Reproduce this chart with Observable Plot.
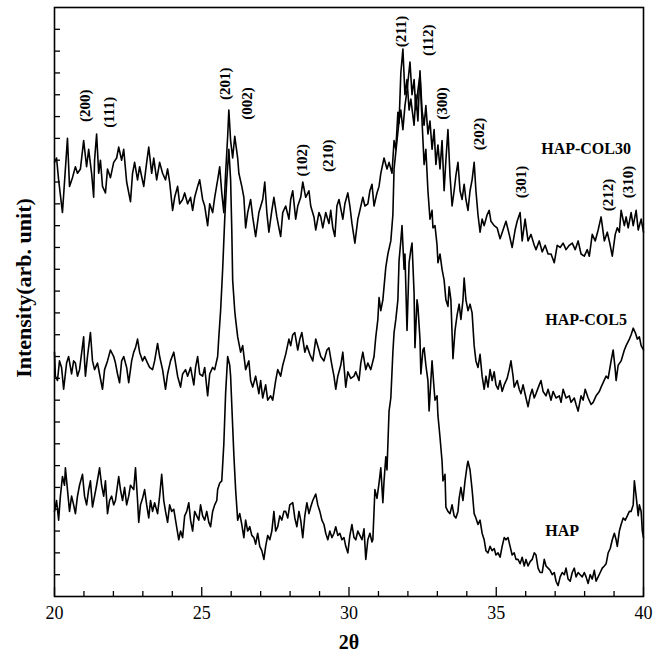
<!DOCTYPE html>
<html><head><meta charset="utf-8">
<script src="https://cdn.jsdelivr.net/npm/d3@7"></script>
<script src="https://cdn.jsdelivr.net/npm/@observablehq/plot@0.6"></script>
<style>body{margin:0;background:#fff} svg{display:block}</style>
</head><body><div id="chart"></div>
<script>
// [2θ (deg), intensity (arb. unit)]
const hapCol30 = [[20.00,19.9],[20.07,20.1],[20.14,19.1],[20.27,17.6],[20.34,19.0],[20.44,21.0],[20.51,18.8],[20.61,19.2],[20.71,19.7],[20.78,19.4],[20.88,19.6],[20.99,20.9],[21.09,19.7],[21.16,20.5],[21.26,19.4],[21.33,18.3],[21.36,20.0],[21.43,21.2],[21.50,19.4],[21.56,20.0],[21.63,18.8],[21.73,18.5],[21.80,19.6],[21.90,19.2],[22.01,19.9],[22.11,20.1],[22.18,20.6],[22.28,20.0],[22.35,20.5],[22.45,19.0],[22.58,18.1],[22.65,19.4],[22.72,19.9],[22.82,19.1],[22.89,19.7],[23.03,18.8],[23.13,19.9],[23.20,20.6],[23.30,19.4],[23.37,20.1],[23.47,19.1],[23.57,19.9],[23.67,19.4],[23.77,19.1],[23.84,19.6],[23.91,19.0],[24.01,17.7],[24.08,18.3],[24.18,18.8],[24.25,18.0],[24.35,18.2],[24.42,18.5],[24.52,18.0],[24.62,18.3],[24.69,17.7],[24.76,18.3],[24.86,18.8],[24.93,19.1],[25.03,18.2],[25.10,17.9],[25.20,17.0],[25.27,18.0],[25.37,17.6],[25.44,18.3],[25.54,19.1],[25.61,19.7],[25.68,18.5],[25.75,17.6],[25.81,19.4],[25.88,21.1],[25.92,22.3],[25.98,20.9],[26.05,20.1],[26.12,21.1],[26.22,20.1],[26.26,19.4],[26.36,18.8],[26.43,18.3],[26.49,16.9],[26.56,17.6],[26.66,18.2],[26.73,17.4],[26.83,16.5],[26.94,17.6],[27.07,18.2],[27.14,19.0],[27.21,17.6],[27.28,16.7],[27.38,17.7],[27.45,18.3],[27.55,17.4],[27.62,16.9],[27.68,16.5],[27.75,17.6],[27.85,17.9],[27.96,17.3],[28.02,18.2],[28.09,18.6],[28.19,17.3],[28.26,17.9],[28.36,18.3],[28.43,19.0],[28.53,18.3],[28.64,18.6],[28.70,17.9],[28.81,17.4],[28.87,16.8],[28.98,17.6],[29.04,17.4],[29.11,16.9],[29.21,17.6],[29.32,17.1],[29.38,17.7],[29.45,16.9],[29.52,16.5],[29.59,17.9],[29.66,18.2],[29.79,17.3],[29.86,18.0],[29.96,18.5],[30.03,17.9],[30.10,17.1],[30.20,16.2],[30.30,17.3],[30.37,17.7],[30.47,18.3],[30.54,17.9],[30.64,18.0],[30.71,18.6],[30.78,18.9],[30.85,17.9],[30.95,18.5],[31.02,18.8],[31.08,19.4],[31.19,20.1],[31.29,19.6],[31.36,19.9],[31.46,19.4],[31.53,20.9],[31.59,20.5],[31.66,22.2],[31.70,21.7],[31.76,24.0],[31.83,25.1],[31.90,23.0],[31.97,23.7],[32.04,22.3],[32.10,22.8],[32.21,21.6],[32.27,23.0],[32.34,21.8],[32.41,24.1],[32.48,22.3],[32.55,21.6],[32.61,22.5],[32.68,21.2],[32.75,21.8],[32.82,20.5],[32.89,21.4],[32.95,19.8],[33.02,20.7],[33.09,19.6],[33.16,20.9],[33.23,18.6],[33.29,20.0],[33.36,21.4],[33.43,19.3],[33.50,17.9],[33.57,18.6],[33.63,19.3],[33.70,19.9],[33.77,18.6],[33.84,18.2],[33.91,18.9],[33.97,18.2],[34.04,17.7],[34.11,18.6],[34.18,19.1],[34.25,19.9],[34.31,18.6],[34.38,17.5],[34.45,16.7],[34.52,17.3],[34.59,17.0],[34.69,17.5],[34.76,17.7],[34.82,17.2],[34.93,17.0],[35.03,16.9],[35.13,16.4],[35.23,16.8],[35.33,17.2],[35.44,16.6],[35.54,16.0],[35.64,16.8],[35.71,17.2],[35.81,17.6],[35.88,16.3],[35.98,17.3],[36.08,16.3],[36.18,16.6],[36.29,16.1],[36.35,15.9],[36.46,16.3],[36.56,15.8],[36.66,16.1],[36.76,15.7],[36.86,15.7],[36.97,15.3],[37.07,16.1],[37.17,16.0],[37.27,16.2],[37.37,15.9],[37.48,16.1],[37.58,16.2],[37.68,15.9],[37.78,16.3],[37.88,15.7],[37.99,15.6],[38.09,15.9],[38.16,15.6],[38.26,16.6],[38.36,16.3],[38.46,16.8],[38.56,17.4],[38.67,16.3],[38.77,16.7],[38.87,16.1],[38.94,15.6],[39.04,16.6],[39.11,16.9],[39.18,16.7],[39.24,17.7],[39.35,17.0],[39.41,17.4],[39.48,16.9],[39.58,17.6],[39.65,17.0],[39.75,17.7],[39.82,16.8],[39.92,17.3],[40.00,16.7]];

const hapCol5 = [[20.00,11.2],[20.03,10.1],[20.10,9.9],[20.17,10.8],[20.24,10.5],[20.31,9.5],[20.41,10.7],[20.48,11.0],[20.58,10.2],[20.65,10.8],[20.71,10.7],[20.78,10.1],[20.85,10.4],[20.99,11.9],[21.02,10.8],[21.05,10.1],[21.12,11.0],[21.22,12.1],[21.29,10.8],[21.36,10.4],[21.46,10.7],[21.53,10.2],[21.63,9.5],[21.70,10.4],[21.80,10.8],[21.90,11.3],[22.01,11.0],[22.07,10.7],[22.14,10.2],[22.21,9.8],[22.28,10.8],[22.35,11.0],[22.45,10.5],[22.52,9.8],[22.62,10.8],[22.69,11.2],[22.75,11.4],[22.82,11.8],[22.89,11.2],[22.99,10.8],[23.06,11.0],[23.16,10.7],[23.23,10.5],[23.33,10.4],[23.40,10.8],[23.50,11.6],[23.57,11.0],[23.67,10.4],[23.77,9.5],[23.84,10.2],[23.94,10.8],[24.05,11.2],[24.11,10.7],[24.18,10.1],[24.28,9.6],[24.35,10.2],[24.45,10.4],[24.52,10.1],[24.62,10.5],[24.73,9.7],[24.79,10.5],[24.86,11.0],[24.93,10.2],[25.03,10.1],[25.10,10.5],[25.20,9.2],[25.27,10.2],[25.37,10.5],[25.44,10.4],[25.54,11.0],[25.58,11.9],[25.64,13.1],[25.71,15.0],[25.78,17.3],[25.85,19.1],[25.92,20.5],[25.98,19.1],[26.02,16.8],[26.05,14.5],[26.12,13.1],[26.15,12.7],[26.22,11.9],[26.32,11.2],[26.39,11.5],[26.49,10.4],[26.60,10.8],[26.66,9.9],[26.73,9.6],[26.83,10.1],[26.94,9.3],[27.00,9.9],[27.07,9.1],[27.17,9.7],[27.24,9.0],[27.34,9.2],[27.41,9.0],[27.51,9.9],[27.58,10.4],[27.68,10.1],[27.75,10.6],[27.85,11.1],[27.96,11.8],[28.02,11.5],[28.09,12.0],[28.16,12.1],[28.26,11.3],[28.33,11.8],[28.40,12.1],[28.50,11.2],[28.57,11.5],[28.67,11.1],[28.77,10.8],[28.87,11.8],[28.98,11.3],[29.04,11.0],[29.15,10.8],[29.25,11.3],[29.32,11.4],[29.42,10.6],[29.49,10.1],[29.55,9.5],[29.62,10.1],[29.72,10.6],[29.79,11.2],[29.89,9.6],[29.96,10.3],[30.06,10.0],[30.17,10.1],[30.23,10.3],[30.34,9.9],[30.40,10.7],[30.47,11.2],[30.57,10.4],[30.64,10.7],[30.74,10.4],[30.85,11.0],[30.91,11.9],[30.98,12.7],[31.02,13.7],[31.08,13.1],[31.15,13.6],[31.25,15.1],[31.32,15.7],[31.42,16.3],[31.49,17.5],[31.53,19.6],[31.63,20.9],[31.70,21.8],[31.76,22.3],[31.83,21.4],[31.90,22.5],[31.97,23.2],[32.04,24.1],[32.07,24.5],[32.14,23.0],[32.21,23.7],[32.27,22.3],[32.34,23.2],[32.41,23.9],[32.48,21.8],[32.55,19.8],[32.61,20.5],[32.68,18.6],[32.75,17.3],[32.82,17.7],[32.85,16.9],[32.92,17.0],[32.99,16.1],[33.02,15.3],[33.09,15.7],[33.16,15.0],[33.23,14.5],[33.29,13.6],[33.36,13.3],[33.40,14.2],[33.46,13.6],[33.53,10.9],[33.60,12.2],[33.67,12.9],[33.74,13.4],[33.80,12.7],[33.87,13.6],[33.91,14.6],[33.97,13.6],[34.04,13.1],[34.11,13.4],[34.18,13.0],[34.25,11.5],[34.31,10.8],[34.38,10.5],[34.45,11.1],[34.52,10.1],[34.59,9.5],[34.65,10.1],[34.72,9.6],[34.79,10.4],[34.86,9.9],[34.93,10.3],[34.99,9.7],[35.06,9.5],[35.13,9.9],[35.20,9.4],[35.27,9.7],[35.37,10.0],[35.44,10.4],[35.50,10.8],[35.57,10.1],[35.61,9.6],[35.71,9.9],[35.78,9.5],[35.84,9.3],[35.91,9.7],[36.01,9.1],[36.08,8.7],[36.15,9.2],[36.22,9.5],[36.29,9.1],[36.35,9.3],[36.46,9.7],[36.52,9.9],[36.59,9.4],[36.69,9.2],[36.76,9.5],[36.86,9.0],[36.93,9.4],[37.03,9.1],[37.14,9.2],[37.20,8.9],[37.27,9.5],[37.37,9.1],[37.48,9.2],[37.54,8.9],[37.65,9.1],[37.71,8.8],[37.78,8.5],[37.88,9.2],[37.95,9.0],[38.02,9.5],[38.12,9.1],[38.22,8.8],[38.29,8.9],[38.39,9.2],[38.50,9.4],[38.56,9.6],[38.63,9.8],[38.73,10.1],[38.80,10.0],[38.90,10.8],[38.97,11.3],[39.04,10.4],[39.07,9.9],[39.14,10.6],[39.24,10.8],[39.35,11.3],[39.41,11.5],[39.52,11.8],[39.58,12.0],[39.65,12.3],[39.72,12.1],[39.79,11.8],[39.86,11.9],[39.92,11.5],[40.00,11.3]];

const hap = [[20.00,3.9],[20.07,4.4],[20.14,3.5],[20.20,4.6],[20.27,5.5],[20.34,5.1],[20.37,5.9],[20.44,4.9],[20.51,3.9],[20.58,4.6],[20.65,4.2],[20.71,3.8],[20.78,4.6],[20.85,5.1],[20.95,5.6],[21.02,4.6],[21.09,4.2],[21.16,4.9],[21.22,5.3],[21.29,4.1],[21.36,4.6],[21.43,5.1],[21.53,5.9],[21.60,5.1],[21.67,4.6],[21.73,5.3],[21.80,3.8],[21.87,4.4],[21.94,4.6],[22.01,4.2],[22.07,4.4],[22.18,5.5],[22.24,4.9],[22.31,4.4],[22.38,5.0],[22.45,4.2],[22.52,4.6],[22.58,5.1],[22.69,4.9],[22.75,5.9],[22.82,4.4],[22.86,3.4],[22.92,4.2],[22.99,4.5],[23.06,4.9],[23.13,4.2],[23.20,3.6],[23.26,4.4],[23.33,3.9],[23.40,4.3],[23.50,3.8],[23.57,4.6],[23.64,5.6],[23.71,4.4],[23.77,3.9],[23.84,3.4],[23.91,4.2],[23.98,3.9],[24.05,4.0],[24.11,3.5],[24.22,2.6],[24.28,3.0],[24.35,2.7],[24.42,3.7],[24.49,3.9],[24.56,4.3],[24.62,3.5],[24.69,3.0],[24.76,3.9],[24.83,3.7],[24.90,3.5],[24.96,4.2],[25.03,3.7],[25.10,3.5],[25.17,3.9],[25.24,3.4],[25.30,3.2],[25.37,3.9],[25.44,4.2],[25.51,4.4],[25.54,4.9],[25.61,5.2],[25.68,5.3],[25.75,7.0],[25.81,9.3],[25.88,11.0],[25.95,10.6],[25.98,10.1],[26.05,7.8],[26.09,6.5],[26.15,4.9],[26.22,3.5],[26.29,3.8],[26.36,3.3],[26.43,2.7],[26.49,3.5],[26.56,3.0],[26.63,3.2],[26.70,2.8],[26.77,2.7],[26.83,2.4],[26.90,2.9],[26.97,2.3],[27.04,2.1],[27.11,1.7],[27.17,2.3],[27.24,2.8],[27.31,2.6],[27.38,3.0],[27.45,3.9],[27.51,3.0],[27.58,3.2],[27.65,3.7],[27.72,3.5],[27.79,3.9],[27.85,3.9],[27.92,3.6],[27.99,4.2],[28.09,4.3],[28.16,3.6],[28.23,3.2],[28.30,3.9],[28.36,3.5],[28.43,2.7],[28.50,3.7],[28.57,4.3],[28.64,3.8],[28.70,4.1],[28.77,4.4],[28.87,4.7],[28.94,4.2],[29.01,3.9],[29.08,3.5],[29.15,3.3],[29.21,2.9],[29.28,2.6],[29.35,3.0],[29.42,2.7],[29.49,2.9],[29.55,3.2],[29.62,2.8],[29.69,2.9],[29.76,2.6],[29.83,2.7],[29.89,2.3],[29.96,2.0],[30.03,2.8],[30.10,3.3],[30.17,2.7],[30.23,2.6],[30.30,3.0],[30.37,2.8],[30.44,2.6],[30.51,3.1],[30.57,1.7],[30.64,2.6],[30.71,2.9],[30.78,2.5],[30.81,2.6],[30.88,4.9],[30.95,4.5],[31.02,5.2],[31.08,5.9],[31.15,4.3],[31.19,5.3],[31.25,6.4],[31.29,5.8],[31.36,8.5],[31.42,9.1],[31.49,11.2],[31.53,12.1],[31.59,12.7],[31.66,13.6],[31.70,15.4],[31.76,16.3],[31.80,17.0],[31.87,15.0],[31.90,15.7],[31.97,12.2],[32.04,15.3],[32.10,15.9],[32.14,16.2],[32.21,13.9],[32.24,11.4],[32.31,13.6],[32.34,13.3],[32.41,11.8],[32.44,10.2],[32.51,11.3],[32.55,11.4],[32.61,10.6],[32.68,9.9],[32.72,8.5],[32.78,9.9],[32.82,10.8],[32.89,9.5],[32.92,9.0],[32.99,9.2],[33.02,8.3],[33.09,7.3],[33.16,6.2],[33.19,5.3],[33.26,5.6],[33.29,4.1],[33.36,3.9],[33.43,3.8],[33.50,4.2],[33.57,3.7],[33.63,3.6],[33.70,3.9],[33.74,4.5],[33.80,5.0],[33.87,4.4],[33.94,5.3],[34.01,6.0],[34.04,6.2],[34.11,5.8],[34.18,4.9],[34.25,3.8],[34.31,3.6],[34.38,3.3],[34.45,3.5],[34.52,2.9],[34.59,2.6],[34.65,2.1],[34.72,2.0],[34.79,2.3],[34.86,2.1],[34.93,2.2],[34.99,1.9],[35.06,2.0],[35.13,1.8],[35.20,2.3],[35.27,2.7],[35.33,2.6],[35.40,2.7],[35.47,2.3],[35.54,1.9],[35.61,2.0],[35.67,1.7],[35.74,1.7],[35.81,1.5],[35.88,1.8],[35.95,1.4],[36.01,1.7],[36.08,1.4],[36.15,1.6],[36.22,1.7],[36.29,2.0],[36.35,1.9],[36.42,1.3],[36.49,1.1],[36.56,1.1],[36.63,1.7],[36.69,1.4],[36.76,1.3],[36.83,1.2],[36.90,1.0],[36.97,1.1],[37.03,0.7],[37.10,0.5],[37.17,0.9],[37.24,1.1],[37.31,1.0],[37.37,1.3],[37.44,0.8],[37.51,0.7],[37.58,1.1],[37.65,1.3],[37.71,0.9],[37.78,1.1],[37.85,1.0],[37.92,0.9],[37.99,1.1],[38.05,0.9],[38.12,0.6],[38.19,1.0],[38.26,0.8],[38.33,1.2],[38.39,0.7],[38.46,0.9],[38.53,1.1],[38.60,1.3],[38.67,1.4],[38.73,1.5],[38.80,2.0],[38.87,2.2],[38.94,2.6],[39.01,2.9],[39.07,2.6],[39.11,2.3],[39.18,3.0],[39.24,3.3],[39.31,3.6],[39.38,3.5],[39.45,3.7],[39.52,3.9],[39.58,3.9],[39.65,4.2],[39.69,5.3],[39.75,4.6],[39.82,3.7],[39.86,4.2],[39.92,3.9],[39.96,3.0],[40.00,2.7]];

const xTickLabels = [20, 25, 30, 35, 40];
const xMinorTicks = [21, 22, 23, 24, 26, 27, 28, 29, 31, 32, 33, 34, 36, 37, 38, 39];
const yTicks = [1,2,3,4,5,6,7,8,9,10,11,12,13,14,15,16,17,18,19,20,21,22,23,24,25,26];

const peakNames = ["(200)","(111)","(201)","(002)","(102)","(210)","(211)","(112)","(300)","(202)","(301)","(212)","(310)"];
const peak2theta = [21.05, 21.87, 25.78, 26.53, 28.40, 29.28, 31.76, 32.68, 33.16, 34.42, 35.84, 38.80, 39.48];
const peakLabelHeight = [22.5, 22.2, 23.5, 22.6, 20.0, 20.2, 25.9, 25.5, 22.6, 21.2, 19.0, 18.4, 19.0];

const seriesNames = ["HAP-COL30", "HAP-COL5", "HAP"];
const seriesLabel2theta = [38.05, 38.05, 37.24];
const seriesLabelHeight = [20.5, 12.7, 3.0];

const W = 670, H = 652, mL = 54, mR = 27, mT = 7, mB = 56;
const innerW = W - mL - mR, innerH = H - mT - mB;
const serif = "'Liberation Serif', 'Times New Roman', Times, serif";

const peaks = peakNames.map((t, i) => ({t, x: peak2theta[i], y: peakLabelHeight[i]}));
const series = seriesNames.map((t, i) => ({t, x: seriesLabel2theta[i], y: seriesLabelHeight[i]}));

const lineOpts = {x: d => d[0], y: d => d[1], stroke: "#000", strokeWidth: 1.6, strokeLinejoin: "round"};

const chart = Plot.plot({
  width: W, height: H,
  marginLeft: mL, marginRight: mR, marginTop: mT, marginBottom: mB,
  style: {fontFamily: serif, background: "#fff", color: "#000"},
  x: {domain: [20, 40]},
  y: {domain: [0, 27], axis: null},
  marks: [
    Plot.line(hap, lineOpts),
    Plot.line(hapCol5, lineOpts),
    Plot.line(hapCol30, lineOpts),
    Plot.tickX(xMinorTicks, {x: d => d, insetTop: innerH - 5, stroke: "#000", strokeWidth: 1.3}),
    Plot.tickX(xTickLabels, {x: d => d, insetTop: innerH - 9, stroke: "#000", strokeWidth: 1.3}),
    Plot.tickY(yTicks, {y: d => d, insetRight: innerW - 6, stroke: "#000", strokeWidth: 1.3}),
    Plot.axisX(xTickLabels, {tickSize: 0, tickPadding: 10, fontSize: 18, label: null}),
    Plot.frame({stroke: "#000", strokeWidth: 1.6}),
    Plot.text(peaks, {x: "x", y: "y", text: "t", rotate: -90, fontSize: 15, fontWeight: "bold"}),
    Plot.text(series, {x: "x", y: "y", text: "t", fontSize: 16, fontWeight: "bold"}),
    Plot.text(["Intensity(arb. unit)"], {frameAnchor: "left", textAnchor: "middle", lineAnchor: "middle", dx: -31, dy: -14, rotate: -90, fontSize: 22, fontWeight: "bold"}),
    Plot.text(["2θ"], {frameAnchor: "bottom", textAnchor: "middle", lineAnchor: "middle", dy: 46, fontSize: 20, fontWeight: "bold"})
  ]
});
document.getElementById("chart").appendChild(chart);
</script>
</body></html>
